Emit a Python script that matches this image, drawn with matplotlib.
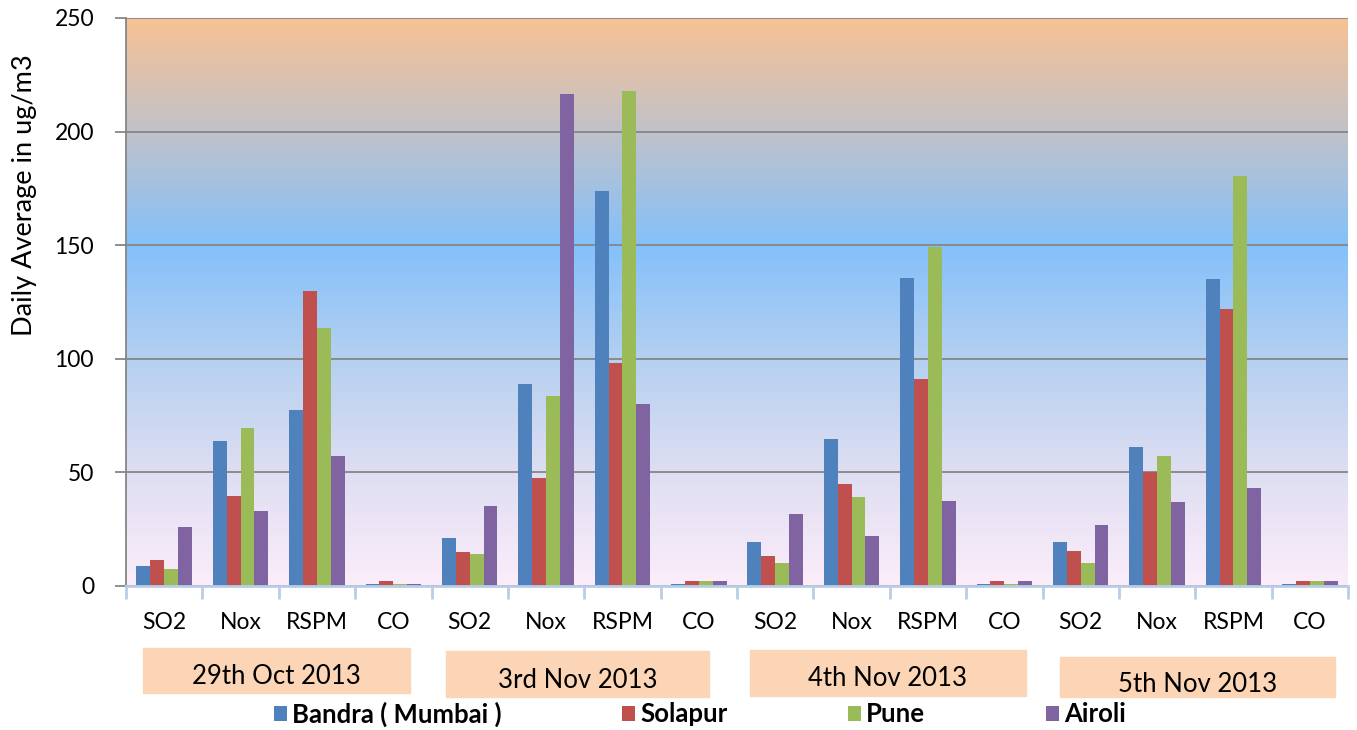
import numpy as np
import matplotlib.pyplot as plt
from matplotlib.colors import LinearSegmentedColormap
from matplotlib.patches import Rectangle

plt.rcParams['font.family'] = ['Lato', 'DejaVu Sans']

pollutants = ["SO2", "Nox", "RSPM", "CO"]
dates = ["29th Oct 2013", "3rd Nov 2013", "4th Nov 2013", "5th Nov 2013"]
categories = pollutants * 4
stations = ["Bandra ( Mumbai )", "Solapur", "Pune", "Airoli"]

bandra = [9, 64, 77.5, 0.8, 21, 89, 174, 0.8, 19.5, 64.5, 135.5, 0.8, 19.5, 61, 135, 0.8]
solapur = [11.5, 39.5, 130, 2, 15, 47.5, 98, 2, 13, 45, 91, 2, 15.5, 50, 122, 2]
pune = [7.5, 69.5, 113.5, 0.8, 14, 83.5, 218, 2, 10, 39, 149, 0.8, 10, 57, 180.5, 2]
airoli = [26, 33, 57, 0.8, 35, 216.5, 80, 2, 31.5, 22, 37.5, 2, 27, 37, 43, 2]
series = [bandra, solapur, pune, airoli]
colors = ['#4F81BD', '#C0504D', '#9BBB59', '#8064A2']

fig = plt.figure(figsize=(13.57, 7.30), dpi=100, facecolor='w')
ax = fig.add_axes([126 / 1357, 144 / 730, 1222 / 1357, 568 / 730])

# gradient plot area
grad = LinearSegmentedColormap.from_list('bg', [
    (0.0, '#FCEDFA'), (0.2, '#DEDEF2'), (0.4, '#B4D0F0'),
    (0.6, '#84C0FB'), (0.8, '#C0C2CA'), (1.0, '#F8C194')])
ax.imshow(np.linspace(0, 1, 256).reshape(-1, 1), cmap=grad, aspect='auto',
          origin='lower', extent=(-0.5, 15.5, 0, 250), zorder=0)

x = np.arange(len(categories))
w = 1 / 5.5
for i, (vals, c, name) in enumerate(zip(series, colors, stations)):
    ax.bar(x + (i - 1.5) * w, vals, w, color=c, label=name, zorder=3)

ax.set_xlim(-0.5, 15.5)
ax.set_ylim(0, 250)
ax.set_yticks(range(0, 251, 50))
ax.yaxis.grid(True, color='#868686', lw=1.3)
ax.set_axisbelow(False)
for gl in ax.get_ygridlines():
    gl.set_zorder(1)

ax.set_xticks(np.arange(-0.5, 16, 1))
ax.set_xticklabels([])
ax.set_xticks(x, minor=True)
ax.set_xticklabels(categories, minor=True)
ax.tick_params(axis='x', which='major', length=9, width=2, color='#B9CDE5',
               direction='out')
ax.tick_params(axis='x', which='minor', length=0, pad=19, labelsize=16.5)
ax.tick_params(axis='y', length=8, width=1.3, color='#868686', pad=15,
               labelsize=16.5)

for s in ('top', 'right'):
    ax.spines[s].set_visible(False)
ax.spines['left'].set_color('#868686')
ax.spines['left'].set_linewidth(1.3)
ax.spines['bottom'].set_color('#B9CDE5')
ax.spines['bottom'].set_linewidth(2)
ax.spines['bottom'].set_zorder(4)

ax.set_ylabel('Daily Average in ug/m3', fontsize=19.5)
ax.yaxis.set_label_coords(-0.073, 0.688)

# date boxes under the category groups
boxes = [(143, 648, 267, 45), (446, 651, 263, 46),
         (750, 650, 276, 46), (1060, 657, 275, 40)]
text_y = [676, 680, 679, 684]
for (bx, by, bw, bh), ty, d in zip(boxes, text_y, dates):
    fig.patches.append(Rectangle((bx / 1357, 1 - (by + bh) / 730),
                                 bw / 1357, bh / 730, color='#FBD5B5',
                                 transform=fig.transFigure, zorder=1))
    fig.text((bx + bw / 2) / 1357, 1 - ty / 730, d,
             ha='center', va='center', fontsize=18.5)

leg = fig.legend(loc='center', bbox_to_anchor=(700 / 1357, 1 - 714 / 730),
                 ncol=4, frameon=False, handlelength=0.5, handleheight=0.5,
                 handletextpad=0.2, columnspacing=4.7,
                 prop={'weight': 'bold', 'size': 18.5})

fig.savefig('out.png', dpi=100)
